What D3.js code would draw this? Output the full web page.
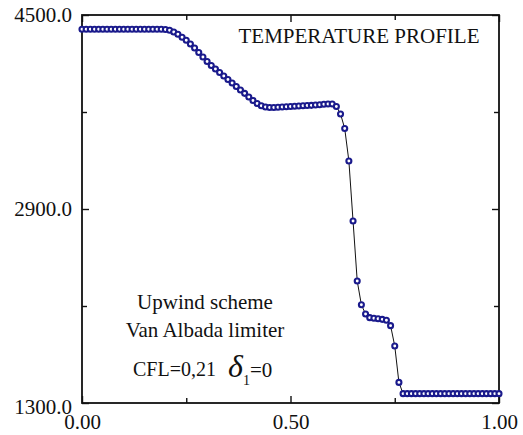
<!DOCTYPE html>
<html>
<head>
<meta charset="utf-8">
<script src="https://cdn.jsdelivr.net/npm/d3@7"></script>
<style>
  html, body { margin: 0; padding: 0; background: #fff; }
  svg { display: block; }
  text { font-family: "Liberation Serif", "Times New Roman", serif; fill: #111; }
</style>
</head>
<body>
<svg id="chart" width="523" height="435"></svg>
<script>
// Temperature profile along the tube (normalised position 0..1)
const positions = d3.range(0, 101).map(i => i / 100);
const temperature = [
  4382, 4382, 4382, 4382, 4382, 4382, 4382, 4382, 4382, 4382,
  4382, 4382, 4382, 4382, 4382, 4382, 4382, 4382, 4382, 4382,
  4380, 4374, 4360, 4341, 4317, 4292, 4261, 4228, 4191, 4154,
  4117, 4084, 4055, 4026, 3997, 3968, 3939, 3910, 3881, 3854,
  3824, 3795, 3770, 3752, 3741, 3737, 3737, 3739, 3741, 3743,
  3745, 3747, 3750, 3751, 3754, 3755, 3758, 3760, 3764, 3766,
  3766, 3745, 3684, 3564, 3296, 2801, 2306, 2110, 2034, 2004,
  1999, 1995, 1990, 1982, 1938, 1770, 1470, 1377, 1377, 1377,
  1377, 1377, 1377, 1377, 1377, 1377, 1377, 1377, 1377, 1377,
  1377, 1377, 1377, 1377, 1377, 1377, 1377, 1377, 1377, 1377,
  1377
];

const xMajorTicks = [0, 0.5, 1.0];
const xMinorTicks = [0.25, 0.75];
const yMajorTicks = [1300, 2900, 4500];
const yMinorTicks = [2100, 3700];

const titleText = "TEMPERATURE PROFILE";
const noteLines = ["Upwind scheme", "Van Albada limiter"];
const cflText = "CFL=0,21";

const svg = d3.select("#chart");
const plot = { left: 82, top: 15, right: 499, bottom: 403 };

const x = d3.scaleLinear().domain([0, 1]).range([plot.left, plot.right]);
const y = d3.scaleLinear().domain([1300, 4500]).range([plot.bottom, plot.top]);

const majorLen = 7, minorLen = 5;
const fontSize = 21;

function styleAxis(g) {
  g.select(".domain").remove();
  g.selectAll(".tick line").attr("stroke", "#111").attr("stroke-width", 1.4);
  g.selectAll(".tick text")
    .style("font-family", '"Liberation Serif", "Times New Roman", serif')
    .style("font-size", fontSize + "px")
    .attr("fill", "#111");
}

// bottom axis
svg.append("g").attr("transform", `translate(0,${plot.bottom})`)
  .call(d3.axisBottom(x).tickValues(xMajorTicks).tickSize(-majorLen).tickPadding(11)
    .tickFormat(d3.format(".2f")))
  .call(styleAxis);
svg.append("g").attr("transform", `translate(0,${plot.bottom})`)
  .call(d3.axisBottom(x).tickValues(xMinorTicks).tickSize(-minorLen).tickFormat(""))
  .call(styleAxis);

// top axis
svg.append("g").attr("transform", `translate(0,${plot.top})`)
  .call(d3.axisTop(x).tickValues(xMajorTicks).tickSize(-majorLen).tickFormat(""))
  .call(styleAxis);
svg.append("g").attr("transform", `translate(0,${plot.top})`)
  .call(d3.axisTop(x).tickValues(xMinorTicks).tickSize(-minorLen).tickFormat(""))
  .call(styleAxis);

// left axis
const leftAxis = svg.append("g").attr("transform", `translate(${plot.left},0)`)
  .call(d3.axisLeft(y).tickValues(yMajorTicks).tickSize(-majorLen).tickPadding(10)
    .tickFormat(d3.format(".1f")))
  .call(styleAxis);
leftAxis.selectAll(".tick text").filter(d => d === 1300).attr("dy", "0.5em");
svg.append("g").attr("transform", `translate(${plot.left},0)`)
  .call(d3.axisLeft(y).tickValues(yMinorTicks).tickSize(-minorLen).tickFormat(""))
  .call(styleAxis);

// right axis
svg.append("g").attr("transform", `translate(${plot.right},0)`)
  .call(d3.axisRight(y).tickValues(yMajorTicks).tickSize(-majorLen).tickFormat(""))
  .call(styleAxis);
svg.append("g").attr("transform", `translate(${plot.right},0)`)
  .call(d3.axisRight(y).tickValues(yMinorTicks).tickSize(-minorLen).tickFormat(""))
  .call(styleAxis);

// frame
svg.append("rect")
  .attr("x", plot.left).attr("y", plot.top)
  .attr("width", plot.right - plot.left).attr("height", plot.bottom - plot.top)
  .attr("fill", "none").attr("stroke", "#111").attr("stroke-width", 1.8);

const data = positions.map((p, i) => ({ p, t: temperature[i] }));

// connecting line
svg.append("path")
  .datum(data)
  .attr("fill", "none")
  .attr("stroke", "#111")
  .attr("stroke-width", 1)
  .attr("d", d3.line().x(d => x(d.p)).y(d => y(d.t)));

// open circle markers
svg.append("g").selectAll("circle")
  .data(data)
  .join("circle")
  .attr("cx", d => x(d.p))
  .attr("cy", d => y(d.t))
  .attr("r", 2.5)
  .attr("fill", "#fff")
  .attr("stroke", "#1a1a8c")
  .attr("stroke-width", 2.1);

// title
svg.append("text")
  .attr("x", 359).attr("y", 43)
  .attr("text-anchor", "middle")
  .style("font-size", "21px")
  .text(titleText);

// method notes
svg.append("g").selectAll("text")
  .data(noteLines)
  .join("text")
  .attr("x", 205)
  .attr("y", (d, i) => 309 + i * 28)
  .attr("text-anchor", "middle")
  .style("font-size", "21px")
  .text(d => d);

svg.append("text")
  .attr("x", 133).attr("y", 376)
  .style("font-size", "20px")
  .text(cflText);

const delta = svg.append("text").attr("x", 228).attr("y", 377);
delta.append("tspan")
  .style("font-size", "32px")
  .style("font-style", "italic")
  .text("δ");
delta.append("tspan")
  .attr("dy", 8)
  .style("font-size", "14px")
  .text("1");
delta.append("tspan")
  .attr("dy", -8)
  .style("font-size", "21px")
  .text("=0");
</script>
</body>
</html>
